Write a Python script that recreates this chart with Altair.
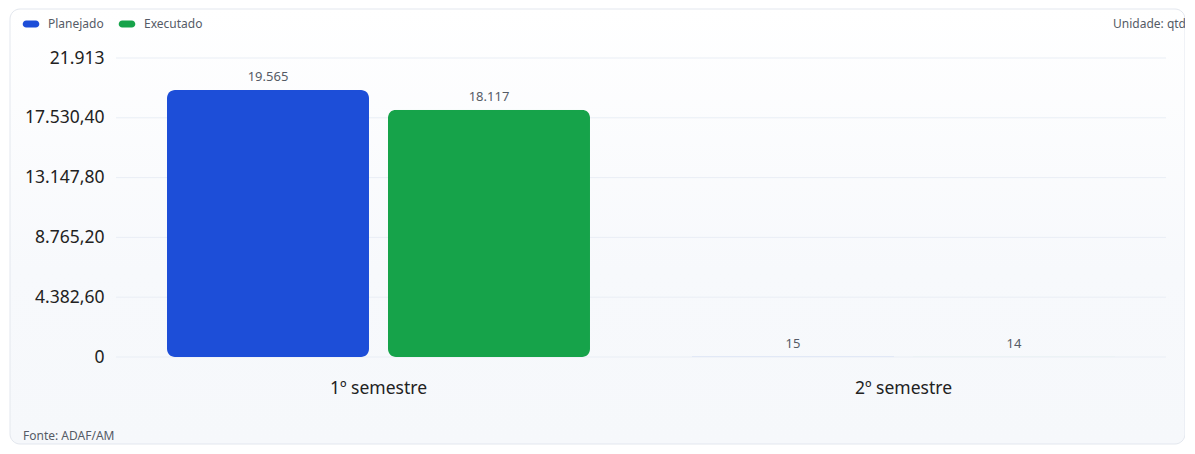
import altair as alt
import pandas as pd

categorias = ["1º semestre", "2º semestre"]
series = ["Planejado", "Executado"]
planejado = [19565, 15]
executado = [18117, 14]
y_ticks = [0, 4382.6, 8765.2, 13147.8, 17530.4, 21913]
cores = ["#1d4ed8", "#16a34a"]

rows = []
for i, c in enumerate(categorias):
    rows.append({"semestre": c, "serie": series[0], "valor": planejado[i]})
    rows.append({"semestre": c, "serie": series[1], "valor": executado[i]})
df = pd.DataFrame(rows)
ticks_df = pd.DataFrame({"valor": y_ticks})

FONT = "Noto Sans"
W, H = 1050, 299

y_scale = alt.Scale(domain=[0, y_ticks[-1]], nice=False)
y_axis = alt.Axis(
    title=None, values=y_ticks, grid=False, domain=False, ticks=False, zindex=1,
    labelFontSize=17.5, labelColor="#222222", labelFont=FONT, labelPadding=12,
    labelExpr="datum.value % 1 == 0 ? replace(format(datum.value, ',d'), ',', '.') : replace(replace(replace(format(datum.value, ',.2f'), ',', '_'), '.', ','), '_', '.')",
)

card = alt.Chart(pd.DataFrame({"k": [0]})).mark_rect(
    cornerRadius=10,
    stroke="#e3e7ee",
    strokeWidth=1,
    fill=alt.Gradient(
        gradient="linear",
        stops=[alt.GradientStop(color="#ffffff", offset=0),
               alt.GradientStop(color="#f7f9fc", offset=0.6),
               alt.GradientStop(color="#f6f8fb", offset=1)],
        x1=0, x2=0, y1=0, y2=1,
    ),
).encode(x=alt.value(-106), x2=alt.value(1069), y=alt.value(-49), y2=alt.value(386))

grid = alt.Chart(ticks_df).mark_rule(color="#e9eef5", strokeWidth=1).encode(
    y=alt.Y("valor:Q", scale=y_scale, axis=y_axis),
    x=alt.value(0), x2=alt.value(W),
)

base = alt.Chart(df).encode(
    x=alt.X("semestre:N", sort=categorias,
            scale=alt.Scale(paddingInner=0, paddingOuter=0),
            axis=alt.Axis(title=None, labelAngle=0, domain=False, ticks=False, zindex=1,
                          labelFontSize=17.5, labelColor="#222222", labelFont=FONT,
                          labelPadding=22)),
    xOffset=alt.XOffset("serie:N", sort=series,
                        scale=alt.Scale(paddingInner=0.086, paddingOuter=0.2308)),
    y=alt.Y("valor:Q", scale=y_scale, axis=y_axis),
)

bars = base.mark_bar(cornerRadius=8).encode(
    color=alt.Color("serie:N", sort=series,
                    scale=alt.Scale(domain=series, range=cores),
                    legend=alt.Legend(
                        title=None, orient="none", direction="horizontal",
                        legendX=-93, legendY=-42,
                        symbolType="M-0.6,-0.45 H0.6 A0.45,0.45 0 0 1 0.6,0.45 H-0.6 A0.45,0.45 0 0 1 -0.6,-0.45 Z",
                        symbolSize=250, symbolStrokeWidth=0, symbolOpacity=1,
                        labelFont=FONT, labelFontSize=12, labelColor="#555b66",
                        columnPadding=14, labelOffset=9, zindex=1)),
)

labels = base.mark_text(dy=-6, baseline="bottom", fontSize=13, color="#555b66", font=FONT).transform_calculate(
    rotulo="replace(format(datum.valor, ','), ',', '.')"
).encode(text="rotulo:N")

unidade = alt.Chart(pd.DataFrame({"t": ["Unidade: qtd"]})).mark_text(
    align="right", baseline="middle", fontSize=12, color="#555b66", font=FONT
).encode(text="t:N", x=alt.value(1070), y=alt.value(-34))

fonte = alt.Chart(pd.DataFrame({"t": ["Fonte: ADAF/AM"]})).mark_text(
    align="left", baseline="middle", fontSize=12, color="#555b66", font=FONT
).encode(text="t:N", x=alt.value(-93), y=alt.value(378))

chart = alt.layer(card, grid, bars, labels, unidade, fonte).properties(
    width=W, height=H,
    padding={"left": 108, "top": 50, "right": 19, "bottom": 88},
    autosize=alt.AutoSizeParams(type="none"),
    background="#ffffff",
).configure_view(stroke=None)

chart.save("out.html", embed_options={"renderer": "svg", "actions": False})
